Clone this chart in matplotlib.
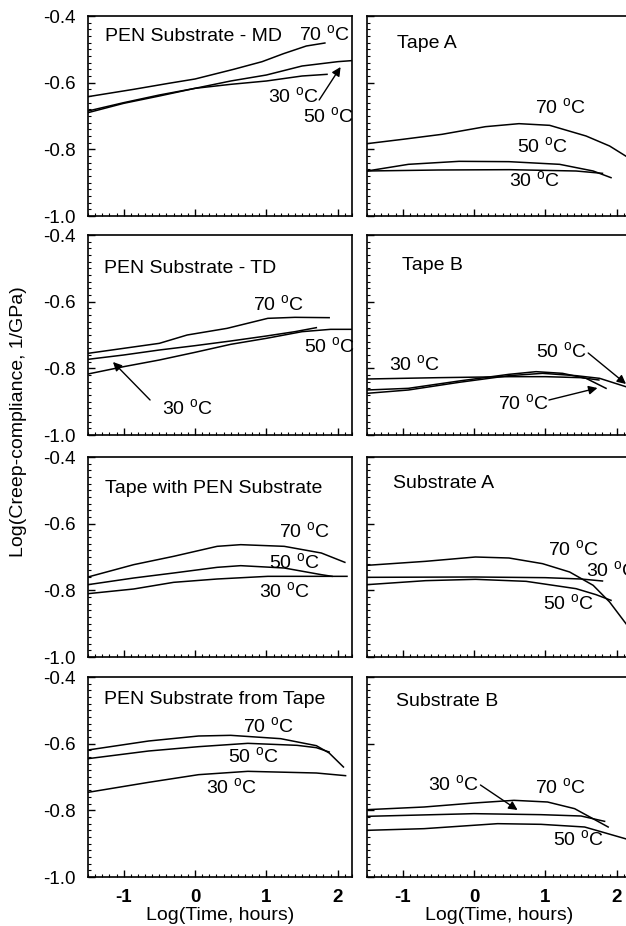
import matplotlib
matplotlib.use('Agg')
import matplotlib.pyplot as plt
from matplotlib.ticker import MultipleLocator

plt.rcParams['font.family'] = ['Liberation Sans', 'DejaVu Sans']
plt.rcParams['mathtext.fontset'] = 'custom'
plt.rcParams['mathtext.rm'] = 'Liberation Sans'

# 数据 (x: Log(Time, hours), y: Log(Creep-compliance))
md_x = {70: [-1.5, -0.86, -0.37, 0.0, 0.54, 0.94, 1.24, 1.56, 1.82],
        50: [-1.5, -1.0, -0.5, 0.0, 0.5, 1.0, 1.5, 2.0, 2.19],
        30: [-1.5, -1.0, -0.5, 0.0, 0.5, 1.0, 1.5, 1.85]}
md_y = {70: [-0.642, -0.62, -0.602, -0.589, -0.56, -0.537, -0.513, -0.49, -0.481],
        50: [-0.685, -0.66, -0.637, -0.617, -0.595, -0.577, -0.55, -0.537, -0.534],
        30: [-0.69, -0.662, -0.64, -0.617, -0.605, -0.595, -0.58, -0.575]}

td_x = {70: [-1.5, -1.0, -0.5, -0.11, 0.45, 0.64, 1.02, 1.4, 1.88],
        30: [-1.5, -1.0, -0.5, 0.0, 0.5, 1.0, 1.4, 1.7],
        50: [-1.5, -1.0, -0.5, 0.0, 0.5, 1.0, 1.5, 1.9, 2.19]}
td_y = {70: [-0.755, -0.74, -0.725, -0.70, -0.68, -0.67, -0.65, -0.647, -0.648],
        30: [-0.773, -0.76, -0.745, -0.732, -0.718, -0.703, -0.69, -0.678],
        50: [-0.817, -0.795, -0.775, -0.752, -0.728, -0.71, -0.69, -0.683, -0.683]}

twp_x = {70: [-1.5, -0.86, -0.3, 0.31, 0.64, 1.25, 1.77, 2.1],
         50: [-1.5, -0.86, -0.3, 0.31, 0.64, 1.25, 1.77, 1.92],
         30: [-1.5, -0.86, -0.3, 0.31, 1.02, 1.77, 2.13]}
twp_y = {70: [-0.76, -0.723, -0.698, -0.668, -0.663, -0.668, -0.688, -0.716],
         50: [-0.783, -0.763, -0.748, -0.731, -0.726, -0.733, -0.753, -0.758],
         30: [-0.81, -0.796, -0.776, -0.766, -0.758, -0.758, -0.758]}

pft_x = {70: [-1.5, -0.65, 0.05, 0.5, 1.2, 1.7, 1.88, 2.08],
         50: [-1.5, -0.65, 0.05, 0.74, 1.43, 1.7, 1.88],
         30: [-1.5, -0.65, 0.05, 0.74, 1.7, 2.11]}
pft_y = {70: [-0.619, -0.592, -0.577, -0.575, -0.585, -0.606, -0.628, -0.67],
         50: [-0.645, -0.622, -0.609, -0.599, -0.605, -0.612, -0.625],
         30: [-0.746, -0.716, -0.693, -0.683, -0.688, -0.696]}

ta_x = {70: [-1.5, -1.0, -0.45, 0.16, 0.63, 1.06, 1.57, 1.9, 2.2],
        50: [-1.5, -0.92, -0.21, 0.49, 1.2, 1.67, 1.92],
        30: [-1.5, -0.5, 0.5, 1.43, 1.8]}
ta_y = {70: [-0.783, -0.77, -0.755, -0.732, -0.723, -0.728, -0.76, -0.79, -0.83],
        50: [-0.865, -0.845, -0.836, -0.837, -0.845, -0.865, -0.885],
        30: [-0.865, -0.862, -0.861, -0.865, -0.872]}

tb_x = {30: [-1.5, -0.5, 0.5, 1.0, 1.5, 1.75],
        70: [-1.5, -0.92, -0.21, 0.49, 0.87, 1.24, 1.57, 1.85],
        50: [-1.5, -0.92, -0.21, 0.49, 0.96, 1.43, 1.76, 2.2]}
tb_y = {30: [-0.832, -0.828, -0.825, -0.825, -0.828, -0.835],
        70: [-0.865, -0.86, -0.838, -0.818, -0.81, -0.815, -0.83, -0.86],
        50: [-0.875, -0.865, -0.842, -0.822, -0.815, -0.822, -0.83, -0.86]}

sa_x = {70: [-1.5, -0.68, 0.02, 0.49, 0.96, 1.34, 1.67, 1.9, 2.2],
        30: [-1.5, 0.0, 1.0, 1.5, 1.8],
        50: [-1.5, -0.68, 0.02, 0.73, 1.43, 1.71, 1.92]}
sa_y = {70: [-0.725, -0.713, -0.70, -0.703, -0.72, -0.745, -0.785, -0.835, -0.92],
        30: [-0.761, -0.760, -0.762, -0.766, -0.772],
        50: [-0.783, -0.771, -0.767, -0.773, -0.795, -0.813, -0.83]}

sb_x = {70: [-1.5, -0.7, 0.0, 0.56, 1.03, 1.41, 1.88],
        30: [-1.5, 0.0, 0.94, 1.5, 1.83],
        50: [-1.5, -0.7, 0.33, 0.94, 1.55, 2.2]}
sb_y = {70: [-0.798, -0.79, -0.778, -0.77, -0.775, -0.795, -0.85],
        30: [-0.818, -0.81, -0.813, -0.817, -0.833],
        50: [-0.86, -0.855, -0.84, -0.842, -0.85, -0.89]}

titles = ['PEN Substrate - MD', 'Tape A', 'PEN Substrate - TD', 'Tape B',
          'Tape with PEN Substrate', 'Substrate A', 'PEN Substrate from Tape', 'Substrate B']
title_pos = [(0.064, 0.90), (0.114, 0.865), (0.06, 0.835), (0.133, 0.85),
             (0.064, 0.845), (0.098, 0.87), (0.06, 0.885), (0.11, 0.875)]
panels = [(md_x, md_y), (ta_x, ta_y), (td_x, td_y), (tb_x, tb_y),
          (twp_x, twp_y), (sa_x, sa_y), (pft_x, pft_y), (sb_x, sb_y)]

# 温度标签位置 (数据坐标, 左对齐)
temp_labels = [
    {70: (1.46, -0.457), 30: (1.02, -0.643), 50: (1.51, -0.703)},
    {70: (0.85, -0.676), 50: (0.60, -0.793), 30: (0.49, -0.895)},
    {70: (0.81, -0.61), 50: (1.53, -0.736), 30: (-0.46, -0.92)},
    {30: (-1.19, -0.79), 50: (0.87, -0.751), 70: (0.33, -0.907)},
    {70: (1.18, -0.625), 50: (1.04, -0.718), 30: (0.89, -0.805)},
    {70: (1.04, -0.679), 30: (1.57, -0.742), 50: (0.96, -0.839)},
    {70: (0.67, -0.55), 50: (0.46, -0.64), 30: (0.16, -0.733)},
    {30: (-0.64, -0.724), 70: (0.85, -0.733), 50: (1.10, -0.889)},
]
# 箭头 (面板序号, 起点, 终点)
arrows = [(0, (1.74, -0.652), (2.04, -0.553)),
          (2, (-0.63, -0.895), (-1.15, -0.781)),
          (3, (1.60, -0.754), (2.13, -0.847)),
          (3, (1.05, -0.895), (1.73, -0.859)),
          (7, (0.09, -0.724), (0.61, -0.799))]

fig = plt.figure(figsize=(6.26, 9.26), dpi=100)
lefts = [88 / 626, 367 / 626]
bottoms = [1 - 216 / 926, 1 - 435 / 926, 1 - 657 / 926, 1 - 877 / 926]
w = 264 / 626
h = 200 / 926

axes = []
for i in range(8):
    row, col = i // 2, i % 2
    ax = fig.add_axes([lefts[col], bottoms[row], w, h])
    axes.append(ax)
    xs, ys = panels[i]
    for t in xs:
        ax.plot(xs[t], ys[t], color='k', lw=1.1)
    ax.set_xlim(-1.5, 2.2)
    ax.set_ylim(-1.0, -0.4)
    ax.xaxis.set_major_locator(MultipleLocator(1))
    ax.xaxis.set_minor_locator(MultipleLocator(0.1))
    ax.yaxis.set_major_locator(MultipleLocator(0.2))
    ax.yaxis.set_minor_locator(MultipleLocator(0.02))
    ax.tick_params(which='both', direction='in', top=False, right=False, color='k')
    ax.tick_params(which='major', length=5, width=1)
    ax.tick_params(which='minor', length=2.5, width=0.8)
    ax.tick_params(axis='y', which='major', pad=9)
    ax.tick_params(axis='x', which='major', pad=9)
    for s in ax.spines.values():
        s.set_linewidth(1.2)
    ax.set_yticks([-0.4, -0.6, -0.8, -1.0])
    if col == 0:
        ax.set_yticklabels(['-0.4', '-0.6', '-0.8', '-1.0'], fontsize=13.5)
    else:
        ax.set_yticklabels([])
    ax.set_xticks([-1, 0, 1, 2])
    if row == 3:
        ax.set_xticklabels(['-1', '0', '1', '2'], fontsize=13.5, fontweight='bold')
        ax.set_xlabel('Log(Time, hours)', fontsize=14, labelpad=0)
    else:
        ax.set_xticklabels([])
    ax.text(title_pos[i][0], title_pos[i][1], titles[i], transform=ax.transAxes,
            fontsize=14, ha='left', va='center')
    for t, (tx, ty) in temp_labels[i].items():
        ax.text(tx, ty, r'%d $^\mathregular{o}$C' % t, fontsize=14, ha='left', va='center')

for idx, start, end in arrows:
    axes[idx].annotate('', xy=end, xytext=start,
                       arrowprops=dict(arrowstyle='-|>', color='k', lw=1.0, mutation_scale=13,
                                       shrinkA=0, shrinkB=0))

fig.text(19 / 626, 1 - 422 / 926, 'Log(Creep-compliance, 1/GPa)', rotation=90,
         fontsize=14, ha='center', va='center')

fig.savefig('out.png', dpi=100)
